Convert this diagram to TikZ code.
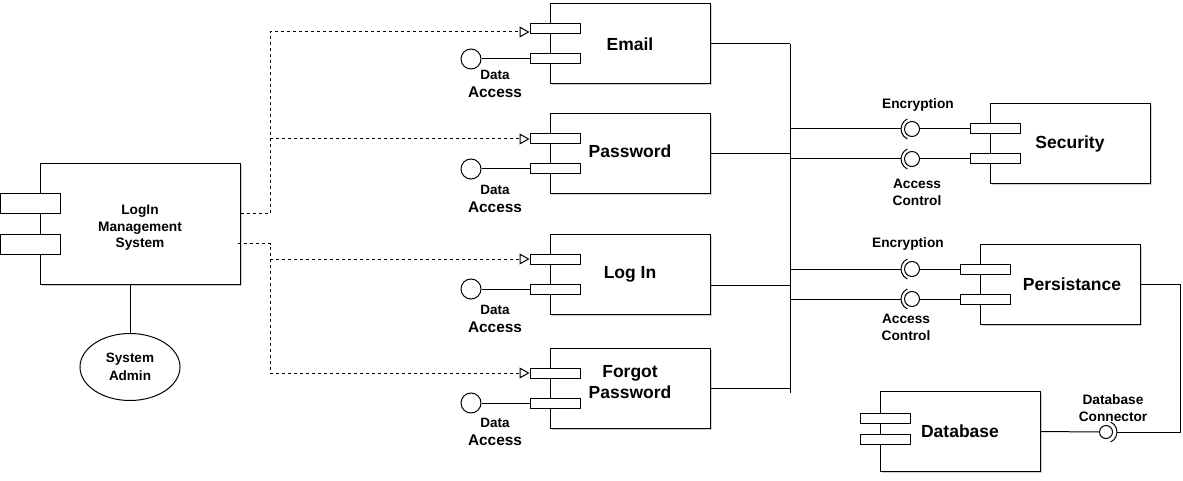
\documentclass[tikz,border=0pt]{standalone}
\usepackage{fontspec}
\setmainfont{Liberation Sans}
\usetikzlibrary{arrows.meta,calc,shapes.geometric,shadows}
\newcommand{\FontBig}{\fontsize{17.5}{21}\selectfont\bfseries}
\newcommand{\FontSm}{\fontsize{13.7}{16.5}\selectfont\bfseries}
\newcommand{\FontAcc}{\fontsize{15.4}{18}\selectfont\bfseries}
\newcommand{\FontData}{\fontsize{13.5}{16}\selectfont\bfseries}
\begin{document}
\begin{tikzpicture}[x=1pt,y=-1pt, line width=1pt,
 comp/.style={draw, fill=white, minimum width=160, minimum height=80, inner sep=0, align=center, font=\FontBig,
   drop shadow={shadow xshift=1.5pt,shadow yshift=-1.5pt,fill=black,opacity=0.18}},
 port/.style={draw, fill=white, minimum width=50, minimum height=10, inner sep=0},
 bigport/.style={port, minimum width=60, minimum height=20},
 lolli/.style={draw, fill=white, circle, minimum size=20, inner sep=0},
 ball/.style={draw, fill=white, circle, minimum size=15, inner sep=0},
 lbl/.style={inner sep=0, align=center, font=\FontSm},
 dep/.style={dash pattern=on 3pt off 3pt, -{Triangle[open, length=10pt, width=11pt]}},
]
\useasboundingbox (0,0) rectangle (1183,481);

% Login management system
\node[comp, minimum width=200, minimum height=120] (lms) at (140,224) {};
\node[lbl] (lmsT) at (140,228) {LogIn\\Management\\System};
\node[bigport] (lmsA) at (30,204) {};
\node[bigport] (lmsB) at (30,244) {};
\node[draw, ellipse, fill=white, minimum width=100, minimum height=67, inner sep=0, align=center,
      font=\fontsize{13.5}{18}\selectfont\bfseries] (adm) at (130,367) {System\\Admin};
\draw (adm.north) -- (adm.north |- lms.south);

% Functional components
\node[comp] (email) at (630,44) {Email};
\node[port] (email1) at (555,29) {};
\node[port] (email2) at (555,59) {};
\node[lolli] (emailc) at (471,59) {};
\draw (emailc) -- (email2);
\node[lbl, font=\FontData] (emailD) at (495,75) {Data};
\node[lbl, font=\FontAcc] (emailA) at (495,92) {Access};

\node[comp] (pass) at (630,154) {};
\node[lbl, font=\FontBig] (passT) at (630,151.5) {Password};
\node[port] (pass1) at (555,139) {};
\node[port] (pass2) at (555,169) {};
\node[lolli] (passc) at (471,169) {};
\draw (passc) -- (pass2);
\node[lbl, font=\FontData] (passD) at (495,190) {Data};
\node[lbl, font=\FontAcc] (passA) at (495,207) {Access};

\node[comp] (login) at (630,274) {Log In};
\node[port] (login1) at (555,259) {};
\node[port] (login2) at (555,289) {};
\node[lolli] (loginc) at (471,289) {};
\draw (loginc) -- (login2);
\node[lbl, font=\FontData] (loginD) at (495,310) {Data};
\node[lbl, font=\FontAcc] (loginA) at (495,327) {Access};

\node[comp] (forgot) at (630,388) {};
\node[lbl, font=\FontBig] (forgotT) at (630,382.5) {Forgot\\Password};
\node[port] (forgot1) at (555,373) {};
\node[port] (forgot2) at (555,403) {};
\node[lolli] (forgotc) at (471,403) {};
\draw (forgotc) -- (forgot2);
\node[lbl, font=\FontData] (forgotD) at (495,423) {Data};
\node[lbl, font=\FontAcc] (forgotA) at (495,440) {Access};

% Dependencies from login management system
\coordinate (dv) at (270,0);
\coordinate (eArr) at ([yshift=-3pt]email1.west);
\draw[dep] ($(lms.north east)+(0,50)$) -| (dv |- eArr) -- (eArr);
\draw[dep] (dv |- pass1.west) -- (pass1.west);
\draw[dep] ($(lms.north east)+(-3,80)$) -| (dv |- forgot1.west) -- (forgot1.west);
\draw[dep] (dv |- login1.west) -- (login1.west);

% Bus
\coordinate (busT) at (790,44);
\coordinate (busB) at (790,393);
\draw (busT) -- (busB);
\draw (email.east) -- (email.east -| busT);
\draw (pass.east) -- (pass.east -| busT);
\draw ([yshift=-11pt]login.east) -- ([yshift=-11pt]login.east -| busT);
\draw (forgot.east) -- (forgot.east -| busT);

% Security
\node[comp] (sec) at (1070,144) {Security};
\node[port] (sec1) at (995,129) {};
\node[port] (sec2) at (995,159) {};
\node[ball] (secb1) at (912,129) {};
\node[ball] (secb2) at (912,159) {};
\draw (secb1.center) ++(115:11) arc[start angle=115, end angle=245, radius=11];
\draw (secb2.center) ++(115:11) arc[start angle=115, end angle=245, radius=11];
\draw (secb1.east) -- (sec1.west);
\draw (secb2.east) -- (sec2.west);
\draw ([xshift=-11pt]secb1.center) -- (secb1.center -| busT);
\draw ([xshift=-11pt]secb2.center) -- (secb2.center -| busT);
\node[lbl] (encS) at (918,105) {Encryption};
\node[lbl] (acS) at (917,192.5) {Access\\Control};

% Persistance
\node[comp] (pers) at (1060,284) {\hspace*{24pt}Persistance};
\node[port] (pers1) at (985,269) {};
\node[port] (pers2) at (985,299) {};
\node[ball] (persb1) at (912,269) {};
\node[ball] (persb2) at (912,299) {};
\draw (persb1.center) ++(115:11) arc[start angle=115, end angle=245, radius=11];
\draw (persb2.center) ++(115:11) arc[start angle=115, end angle=245, radius=11];
\draw (persb1.east) -- (pers1.west);
\draw (persb2.east) -- (pers2.west);
\draw ([xshift=-11pt]persb1.center) -- (persb1.center -| busT);
\draw ([xshift=-11pt]persb2.center) -- (persb2.center -| busT);
\node[lbl] (encP) at (908,244) {Encryption};
\node[lbl] (acP) at (906,327.5) {Access\\Control};

% Database
\node[comp] (db) at (960,431.5) {Database};
\node[port] (db1) at (885,418) {};
\node[port] (db2) at (885,439) {};
\node[ball, minimum size=13] (dbb) at (1106,432) {};
\draw (dbb.center) ++(-65:11) arc[start angle=-65, end angle=65, radius=11];
\draw (db.east) -- (dbb.west);
\coordinate (rc) at (1180,284);
\draw ([xshift=11pt]dbb.center) -| (rc) -- (pers.east);
\node[lbl] (dbc) at (1113,408) {Database\\Connector};
\end{tikzpicture}
\end{document}
